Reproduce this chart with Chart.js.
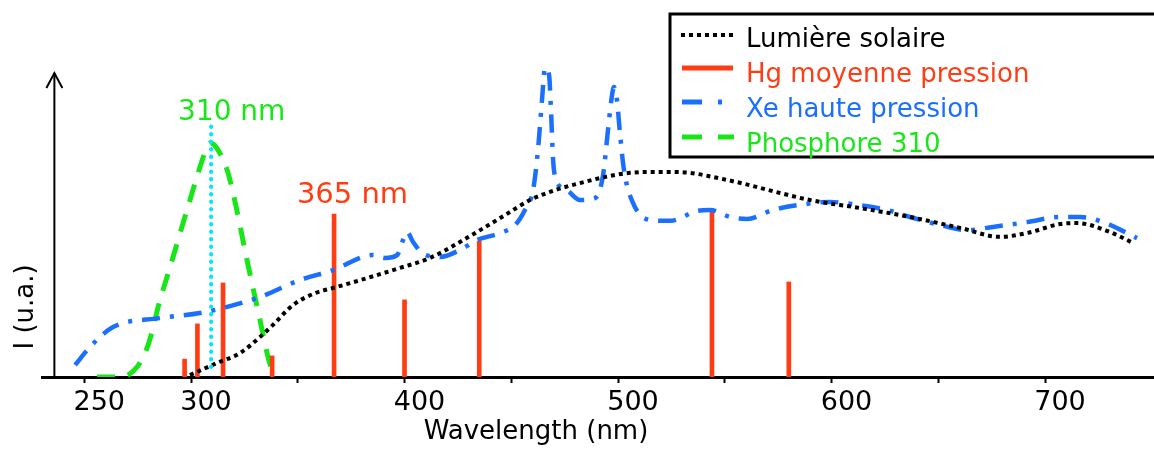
<!DOCTYPE html>
<html><head><meta charset="utf-8">
<script src="https://cdn.jsdelivr.net/npm/chart.js@4.4.1/dist/chart.umd.min.js"></script>
<style>html,body{margin:0;padding:0;background:#fff;}#wrap{width:1154px;height:449px;}</style>
</head><body><div id="wrap"><canvas id="c" width="1154" height="449"></canvas></div>
<script>
const FONT = "'DejaVu Sans', sans-serif";
const RED = '#ff3c14', BLUE = '#1a6fff', GREEN = '#19e619', CYAN = '#00e6ff';

// axis ticks
const xTickValues = [250, 300, 350, 400, 450, 500, 550, 600, 650, 700];
const xTickLabels = ['250', '300', '', '400', '', '500', '', '600', '', '700'];

// Lumière solaire
const sunX = [299.5, 312.2, 323.0, 332.3, 338.4, 347.8, 358.5, 366.5, 382.4, 397.9, 411.9, 435.4, 447.1, 458.8, 470.5, 482.2, 493.9, 505.6, 521.1, 533.7, 544.5, 559.5, 575.9, 589.9, 613.3, 636.8, 660.2, 678.9, 691.6, 707.0, 715.0, 730.4, 741.2];
const sunY = [0.6, 4.4, 7.5, 12.5, 16.3, 22.5, 26.3, 27.8, 30.9, 34.1, 37.2, 45.9, 50.6, 55.3, 58.4, 60.6, 62.5, 63.8, 64.1, 63.8, 62.5, 60.3, 57.5, 55.3, 52.8, 50.0, 46.6, 43.8, 45.0, 47.8, 48.1, 45.3, 41.9];

// Hg moyenne pression (raies)
const hgX = [297, 303, 315, 338, 367, 400, 435, 544, 580];
const hgY = [5.6, 16.6, 29.4, 6.6, 50.9, 24.1, 42.5, 51.9, 29.7];

// Xe haute pression
const xeX = [245.7, 252.7, 263.5, 285.5, 304.2, 316.9, 332.3, 351.1, 366.5, 385.2, 390.9, 396.5, 399.3, 401.2, 404.0, 408.2, 416.6, 426.0, 434.0, 444.7, 451.8, 456.4, 460.2, 462.5, 464.4, 465.8, 467.7, 468.6, 469.6, 471.0, 476.1, 482.2, 489.2, 493.0, 495.3, 497.2, 498.1, 499.5, 500.9, 502.8, 507.0, 515.0, 524.4, 537.0, 543.1, 552.5, 560.4, 572.6, 585.2, 599.3, 611.9, 626.0, 636.8, 650.8, 663.5, 675.6, 691.6, 707.0, 716.4, 727.2, 743.1];
const xeY = [3.75, 9.4, 15.6, 18.4, 20.0, 21.9, 25.0, 30.3, 33.4, 38.1, 37.2, 38.1, 42.8, 45.3, 42.2, 38.8, 37.5, 39.7, 42.8, 45.0, 47.5, 52.2, 58.4, 70.9, 86.6, 96.6, 94.4, 83.4, 67.8, 61.6, 58.4, 55.3, 55.9, 63.1, 77.2, 88.1, 90.6, 86.6, 76.3, 64.7, 54.4, 49.1, 48.8, 51.9, 52.2, 50.0, 49.4, 52.2, 53.8, 54.7, 53.8, 52.2, 50.0, 47.5, 45.9, 46.9, 48.4, 50.0, 50.0, 48.4, 43.4];

// Phosphore 310
const phosX = [256.0, 266.7, 274.7, 279.9, 285.5, 290.2, 298.1, 304.2, 306.6, 308.9, 311.7, 316.9, 319.7, 326.2, 332.3, 335.6, 338.4];
const phosY = [0, 0, 3.1, 10.0, 24.1, 34.4, 52.2, 65.6, 70.3, 73.1, 71.9, 64.7, 57.5, 36.6, 17.8, 7.5, 0.6];

// 310 nm marker
const markerX = [309.4, 309.4];
const markerY = [3.1, 79.7];

const seriesNames = ['Lumière solaire', 'Hg moyenne pression', 'Xe haute pression', 'Phosphore 310'];
const annotTexts = ['310 nm', '365 nm'];
const annotX = [293.9, 349.6];
const annotY = [82.5, 56.6];
const xTitle = 'Wavelength (nm)';
const yTitle = 'I (u.a.)';

const pts = (xs, ys) => xs.map((x, i) => ({x, y: ys[i]}));

const decor = {
  id: 'decor',
  afterDraw(chart) {
    const ctx = chart.ctx, xs = chart.scales.x, ys = chart.scales.y;
    ctx.save();
    // y axis with arrow
    const ax = xs.getPixelForValue(236);
    const y0 = ys.getPixelForValue(0) + 1, y1 = ys.getPixelForValue(95);
    ctx.strokeStyle = '#000'; ctx.lineWidth = 2; ctx.setLineDash([]);
    ctx.beginPath(); ctx.moveTo(ax, y0); ctx.lineTo(ax, y1); ctx.stroke();
    ctx.beginPath(); ctx.moveTo(ax - 8, y1 + 15); ctx.lineTo(ax, y1); ctx.lineTo(ax + 8, y1 + 15); ctx.stroke();
    // y title
    ctx.fillStyle = '#000'; ctx.font = "26px " + FONT;
    ctx.save(); ctx.translate(ax - 28, ys.getPixelForValue(21.9)); ctx.rotate(-Math.PI / 2);
    ctx.textAlign = 'center'; ctx.textBaseline = 'middle'; ctx.fillText(yTitle, 0, 0); ctx.restore();
    // x title
    ctx.textAlign = 'center'; ctx.textBaseline = 'middle';
    ctx.fillText(xTitle, xs.getPixelForValue(461.6), 432);
    // annotations
    const annColors = [GREEN, RED], annSizes = [28, 29];
    annotTexts.forEach((t, i) => {
      ctx.fillStyle = annColors[i]; ctx.font = annSizes[i] + "px " + FONT;
      ctx.textAlign = 'left'; ctx.textBaseline = 'middle';
      ctx.fillText(t, xs.getPixelForValue(annotX[i]), ys.getPixelForValue(annotY[i]));
    });
    // legend
    ctx.fillStyle = '#fff'; ctx.fillRect(670, 14, 500, 143);
    ctx.strokeStyle = '#000'; ctx.lineWidth = 3; ctx.strokeRect(670, 14, 500, 143);
    const cols = ['#000', RED, BLUE, GREEN];
    const baselines = [47, 82, 117, 152];
    const symY = [35, 68, 102, 137];
    seriesNames.forEach((n, i) => {
      ctx.fillStyle = cols[i]; ctx.font = "26px " + FONT;
      ctx.textAlign = 'left'; ctx.textBaseline = 'alphabetic';
      ctx.fillText(n, 746, baselines[i]);
      ctx.strokeStyle = cols[i]; ctx.lineWidth = i === 0 ? 4 : 5; ctx.lineCap = 'butt';
      const y = symY[i];
      if (i === 0) { ctx.setLineDash([4, 4]); ctx.beginPath(); ctx.moveTo(681, y); ctx.lineTo(735, y); ctx.stroke(); }
      if (i === 1) { ctx.setLineDash([]); ctx.beginPath(); ctx.moveTo(682, y); ctx.lineTo(733, y); ctx.stroke(); }
      if (i === 2) { ctx.setLineDash([20, 16, 4, 40]); ctx.beginPath(); ctx.moveTo(682, y); ctx.lineTo(733, y); ctx.stroke(); }
      if (i === 3) { ctx.setLineDash([20, 16]); ctx.beginPath(); ctx.moveTo(682, y); ctx.lineTo(734, y); ctx.stroke(); }
    });
    ctx.restore();
  }
};

new Chart(document.getElementById('c'), {
  type: 'line',
  data: {
    datasets: [
      { label: 'Phosphore 310', data: pts(phosX, phosY), borderColor: GREEN, borderWidth: 5, borderDash: [18, 13], pointRadius: 0, cubicInterpolationMode: 'monotone', fill: false, order: 4 },
      { type: 'bar', label: 'Hg moyenne pression', data: pts(hgX, hgY), backgroundColor: RED, barThickness: 4, order: 3 },
      { label: 'Xe haute pression', data: pts(xeX, xeY), borderColor: BLUE, borderWidth: 4.5, borderDash: [18, 10, 4, 10], pointRadius: 0, cubicInterpolationMode: 'monotone', fill: false, order: 2 },
      { label: 'Lumière solaire', data: pts(sunX, sunY), borderColor: '#000', borderWidth: 4, borderDash: [4, 4], borderCapStyle: 'butt', pointRadius: 0, cubicInterpolationMode: 'monotone', fill: false, order: 1 },
      { label: '310 nm', data: pts(markerX, markerY), borderColor: CYAN, borderWidth: 4, borderDash: [0.5, 7], borderCapStyle: 'round', pointRadius: 0, fill: false, order: 0 }
    ]
  },
  options: {
    responsive: false,
    animation: false,
    devicePixelRatio: 1,
    layout: { padding: { left: 42, right: 0, top: 57, bottom: 27 } },
    plugins: { legend: { display: false }, tooltip: { enabled: false } },
    scales: {
      x: {
        type: 'linear', min: 230.2, max: 751.05, offset: false,
        afterBuildTicks: (s) => { s.ticks = xTickValues.map(v => ({ value: v })); },
        ticks: {
          autoSkip: false, maxRotation: 0, padding: 6, labelOffset: 15, color: '#000',
          font: { family: FONT, size: 27, lineHeight: 1 },
          callback: (v) => xTickLabels[xTickValues.indexOf(v)] ?? ''
        },
        grid: { offset: false, drawOnChartArea: false, drawTicks: true, tickLength: 6, tickColor: '#000', tickWidth: 2 },
        border: { display: true, color: '#000', width: 3 }
      },
      y: { type: 'linear', display: false, min: 0, max: 100 }
    }
  },
  plugins: [decor]
});
</script></body></html>
